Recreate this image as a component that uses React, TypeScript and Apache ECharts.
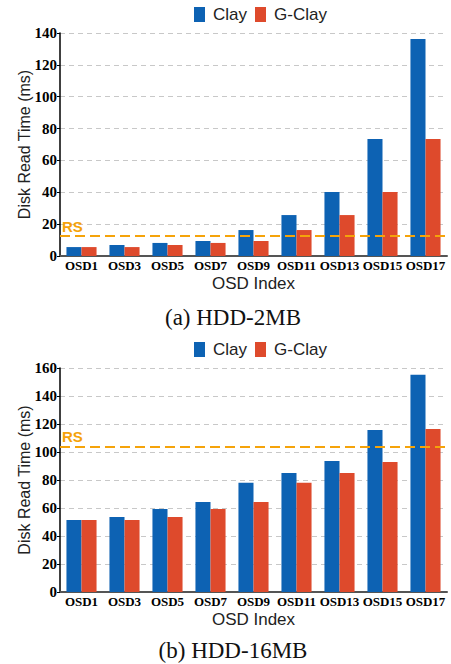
import React, { useEffect, useRef } from "react";
import * as echarts from "echarts";

const categories = ["OSD1", "OSD3", "OSD5", "OSD7", "OSD9", "OSD11", "OSD13", "OSD15", "OSD17"];
const clay2MB = [5.6, 6.9, 8.2, 9.4, 16.3, 25.7, 40.2, 73.4, 136.2];
const gclay2MB = [5.6, 5.6, 6.9, 8.2, 9.4, 16.3, 25.7, 40.2, 73.4];
const rs2MB = 12.6;
const clay16MB = [51.4, 53.5, 59.2, 64.2, 78, 85, 93.6, 115.8, 155.2];
const gclay16MB = [51.4, 51.4, 53.5, 59.2, 64.2, 78, 85, 92.9, 116.5];
const rs16MB = 104;
const yTicks1 = { min: 0, max: 140, interval: 20 };
const yTicks2 = { min: 0, max: 160, interval: 20 };
const captions = ["(a) HDD-2MB", "(b) HDD-16MB"];

const BLUE = "#0d62b3";
const RED = "#de4a2c";
const ORANGE = "#f5a30a";
const SERIF = "'Liberation Serif', 'Times New Roman', serif";
const SANS = "'Liberation Sans', Arial, sans-serif";

export default function App() {
  const ref = useRef<HTMLDivElement>(null);
  useEffect(() => {
    document.body.style.margin = "0";
    const chart = echarts.init(ref.current!, undefined, { renderer: "svg" });
    const xAxis = (gi: number) => ({
      type: "category",
      gridIndex: gi,
      data: categories,
      name: "OSD Index",
      nameLocation: "middle",
      nameGap: 19,
      nameMoveOverlap: false,
      nameTextStyle: { fontFamily: SANS, fontSize: 17, color: "#222" },
      axisLine: { lineStyle: { color: "#555", width: 2 } },
      axisTick: { show: false },
      axisLabel: { interval: 0, fontFamily: SERIF, fontWeight: "bold", fontSize: 13, color: "#000", margin: 3 },
    });
    const yAxis = (gi: number, t: any) => ({
      type: "value",
      gridIndex: gi,
      min: t.min,
      max: t.max,
      interval: t.interval,
      name: "Disk Read Time (ms)",
      nameLocation: "middle",
      nameGap: 28,
      nameMoveOverlap: false,
      nameTextStyle: { fontFamily: SANS, fontSize: 16, color: "#222" },
      axisLine: { show: true, lineStyle: { color: "#000", width: 1.5 } },
      axisTick: { show: true, length: 3, lineStyle: { color: "#000" } },
      axisLabel: { fontFamily: SERIF, fontWeight: "bold", fontSize: 15, color: "#000", margin: 3 },
      splitLine: { show: true, lineStyle: { color: "#c8c8c8", type: [5, 4], width: 1 } },
    });
    const bar = (name: string, data: number[], color: string, gi: number, rs?: number) => ({
      type: "bar",
      name,
      data,
      xAxisIndex: gi,
      yAxisIndex: gi,
      barGap: "0%",
      barCategoryGap: "30%",
      itemStyle: { color },
      ...(rs !== undefined
        ? {
            markLine: {
              silent: true,
              symbol: "none",
              data: [{ yAxis: rs }],
              lineStyle: { color: ORANGE, type: [10, 5], width: 2 },
              label: {
                show: true,
                position: "insideStartTop",
                formatter: "RS",
                color: ORANGE,
                fontFamily: SANS,
                fontWeight: "bold",
                fontSize: 15,
                distance: [2, 2],
              },
            },
          }
        : {}),
    });
    const legend = (top: number) => ({
      left: 194,
      top,
      padding: 0,
      itemWidth: 11,
      itemHeight: 15,
      itemGap: 8,
      icon: "rect",
      data: ["Clay", "G-Clay"],
      textStyle: { fontFamily: SANS, fontSize: 17, color: "#222", padding: [0, 0, 0, 3] },
    });
    chart.setOption({
      animation: false,
      backgroundColor: "#fff",
      legend: [legend(6), legend(341)],
      grid: [
        { left: 60, top: 33, width: 387, height: 223 },
        { left: 60, top: 368, width: 387, height: 224 },
      ],
      xAxis: [xAxis(0), xAxis(1)],
      yAxis: [yAxis(0, yTicks1), yAxis(1, yTicks2)],
      series: [
        bar("Clay", clay2MB, BLUE, 0, rs2MB),
        bar("G-Clay", gclay2MB, RED, 0),
        bar("Clay", clay16MB, BLUE, 1, rs16MB),
        bar("G-Clay", gclay16MB, RED, 1),
      ],
      graphic: [
        {
          type: "text",
          x: 233,
          y: 317,
          style: { text: captions[0], font: `23px ${SERIF}`, fill: "#111", align: "center", verticalAlign: "middle" },
        },
        {
          type: "text",
          x: 233,
          y: 650,
          style: { text: captions[1], font: `23px ${SERIF}`, fill: "#111", align: "center", verticalAlign: "middle" },
        },
      ],
    });
    return () => chart.dispose();
  }, []);
  return <div ref={ref} style={{ width: 451, height: 664 }} />;
}
